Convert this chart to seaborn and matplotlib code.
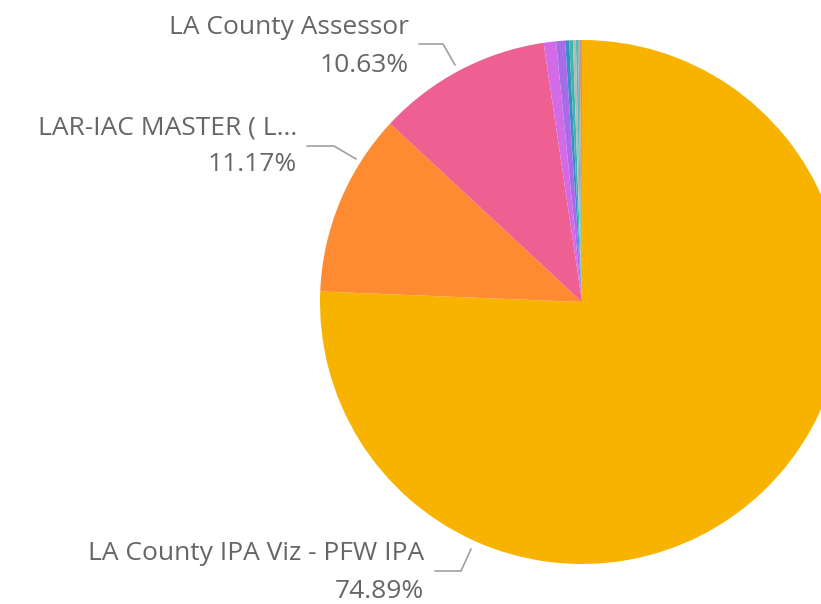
import matplotlib
matplotlib.use("Agg")
import matplotlib.pyplot as plt
import seaborn as sns
from matplotlib.lines import Line2D

# ---- data ----
categories = [
    "LA County IPA Viz - PFW IPA",
    "LAR-IAC MASTER ( L...",
    "LA County Assessor",
    "Other A", "Other B", "Other C", "Other D", "Other E",
    "Other F", "Other G", "Other H", "Other I", "Other J",
]
shares = [74.89, 11.17, 10.63, 0.75, 0.55, 0.25, 0.22, 0.18, 0.13, 0.10, 0.06, 0.04, 0.04]
colors = ["#F8B300", "#FE8A31", "#EE6092", "#D46BE6", "#A86CE8", "#3C8CC6",
          "#3BB8A9", "#BDB5B5", "#4CC2B0", "#9AA3A8", "#F0906A", "#2F5F8A", "#E27A9A"]
label_texts = ["LA County IPA Viz - PFW IPA", "LAR-IAC MASTER ( L...", "LA County Assessor"]
label_pcts = ["74.89%", "11.17%", "10.63%"]

sns.set_theme(style="white")
plt.rcParams['font.family'] = ['Open Sans', 'DejaVu Sans']

W, H = 821, 604
fig = plt.figure(figsize=(W / 100, H / 100), dpi=100)
cx, cy, r = 582, 302, 262
ax = fig.add_axes([(cx - r) / W, (H - cy - r) / H, 2 * r / W, 2 * r / H])
ax.pie(shares, colors=colors, startangle=90, counterclock=False,
       wedgeprops=dict(linewidth=0), radius=1.0)
ax.set_xlim(-1, 1)
ax.set_ylim(-1, 1)
ax.set_aspect('auto')
for p in ax.patches:
    p.set_clip_on(False)
ax.axis('off')


def fx(x):
    return x / W


def fy(y):
    return (H - y) / H


name_color = "#666666"
pct_color = "#666666"
fs = 19

# label layouts: (right x, name y, pct y, leader polyline)
layouts = [
    (424, 554, 591, [(435, 571), (461, 571), (471, 549)]),
    (297, 128, 164, [(307, 146), (334, 146), (356, 159)]),
    (409, 28, 66, [(419, 44), (443, 44), (455, 65)]),
]
for (xr, yn, yp, line), name, pct in zip(layouts, label_texts, label_pcts):
    fig.text(fx(xr), fy(yn), name, ha='right', va='center', fontsize=fs, color=name_color)
    fig.text(fx(xr), fy(yp), pct, ha='right', va='center', fontsize=fs, color=pct_color)
    xs = [fx(p[0]) for p in line]
    ys = [fy(p[1]) for p in line]
    fig.add_artist(Line2D(xs, ys, transform=fig.transFigure, color="#A19F9D", linewidth=1.2))

fig.savefig("out.png", dpi=100, facecolor="white")
